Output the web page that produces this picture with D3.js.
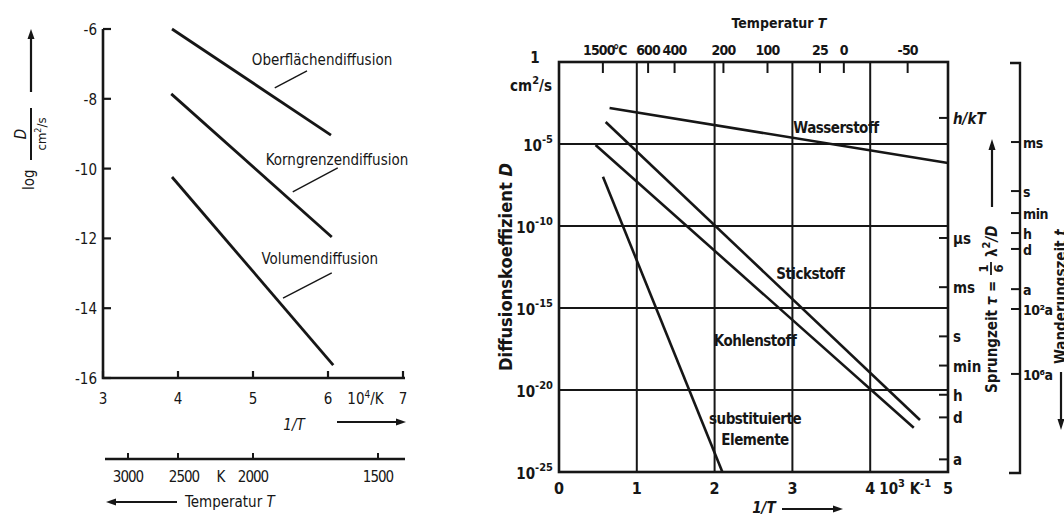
<!DOCTYPE html>
<html>
<head>
<meta charset="utf-8">
<script src="https://cdn.jsdelivr.net/npm/d3@7"></script>
<style>
  body { margin: 0; background: #fff; }
  svg text { font-family: "DejaVu Sans Condensed", "Liberation Sans Narrow", sans-serif; font-stretch: condensed; fill: #161616; }
</style>
</head>
<body>
<div id="chart"></div>
<script>
// ---------- left panel data (1/T in 10^4/K, log D in cm²/s) ----------
const leftNames = ['Oberflächendiffusion', 'Korngrenzendiffusion', 'Volumendiffusion'];
const leftInvT = [[3.92, 6.04], [3.91, 6.05], [3.92, 6.07]];
const leftLogD = [[-6.0, -9.04], [-7.86, -11.96], [-10.24, -15.63]];
const leftYTicks = [-6, -8, -10, -12, -14, -16];
const leftXTicks = [3, 4, 5, 6, 7];
const leftTempTicks = [3000, 2500, 2000, 1500];

// ---------- right panel data (1/T in 10^3 K^-1, log D in cm²/s) ----------
const rightNames = ['Wasserstoff', 'Stickstoff', 'Kohlenstoff', 'substituierte Elemente'];
const rightInvT = [[0.65, 5.0], [0.60, 4.64], [0.47, 4.56], [0.565, 2.10]];
const rightLogD = [[-2.8, -6.16], [-3.66, -21.83], [-5.06, -22.3], [-7.0, -25.0]];
const rightYTicks = [0, -5, -10, -15, -20, -25];
const rightXTicks = [0, 1, 2, 3, 4, 5];
const topTempC = [1500, 600, 400, 200, 100, 25, 0, -50];
// Sprungzeit scale (inner right), placed at equivalent log D
const jumpLabels = ['h/kT', 'µs', 'ms', 's', 'min', 'h', 'd', 'a'];
const jumpLogD = [-3.41, -10.73, -13.73, -16.73, -18.51, -20.29, -21.67, -24.23];
// Wanderungszeit scale (outer right), placed at equivalent log D
const walkLabels = ['ms', 's', 'min', 'h', 'd', 'a', '10²a', '10⁶a'];
const walkLogD = [-4.88, -7.87, -9.21, -10.43, -11.4, -13.85, -15.06, -19.02];

const ink = '#161616';
const svg = d3.select('#chart').append('svg')
    .attr('width', 1064)
    .attr('height', 516);

// ===================== left panel =====================
const xL = d3.scaleLinear().domain([3, 7]).range([103, 403]);
const yL = d3.scaleLinear().domain([-16, -6]).range([378, 29]);
const gL = svg.append('g');

gL.append('path')
    .attr('d', `M${xL(3)},${yL(-6)}V${yL(-16)}H${xL(7) + 2}`)
    .attr('fill', 'none').attr('stroke', ink).attr('stroke-width', 2.6);

leftYTicks.forEach(v => {
    gL.append('line')
        .attr('x1', xL(3)).attr('x2', xL(3) + 8)
        .attr('y1', yL(v)).attr('y2', yL(v))
        .attr('stroke', ink).attr('stroke-width', 2.2);
    gL.append('text')
        .attr('x', xL(3) - 6).attr('y', yL(v) + 6)
        .attr('text-anchor', 'end')
        .style('font-size', '15px')
        .text(v);
});

leftXTicks.forEach(v => {
    gL.append('line')
        .attr('x1', xL(v)).attr('x2', xL(v))
        .attr('y1', yL(-16)).attr('y2', yL(-16) - 7)
        .attr('stroke', ink).attr('stroke-width', 2.2);
    gL.append('text')
        .attr('x', xL(v)).attr('y', 404)
        .attr('text-anchor', 'middle')
        .style('font-size', '15px')
        .text(v);
});
const unitL = gL.append('text').attr('x', xL(6.5)).attr('y', 404)
    .attr('text-anchor', 'middle').style('font-size', '15px');
unitL.append('tspan').text('10');
unitL.append('tspan').attr('dy', -6).style('font-size', '10px').text('4');
unitL.append('tspan').attr('dy', 6).text('/K');

// 1/T label with arrow
gL.append('text').attr('x', 294).attr('y', 430)
    .attr('text-anchor', 'middle').style('font-size', '15px').style('font-style', 'italic')
    .text('1/T');
gL.append('line').attr('x1', 337).attr('x2', 398).attr('y1', 422).attr('y2', 422)
    .attr('stroke', ink).attr('stroke-width', 2.2);
gL.append('path').attr('d', 'M406,422 L396,418.5 L396,425.5 Z').attr('fill', ink);

// temperature axis
gL.append('line').attr('x1', 105).attr('x2', 405).attr('y1', 459).attr('y2', 459)
    .attr('stroke', ink).attr('stroke-width', 2.4);
leftTempTicks.forEach(t => {
    const x = xL(1e4 / t);
    gL.append('line').attr('x1', x).attr('x2', x).attr('y1', 459).attr('y2', 453)
        .attr('stroke', ink).attr('stroke-width', 2);
    gL.append('text').attr('x', t === 2500 ? x + 6 : x).attr('y', 482)
        .attr('text-anchor', 'middle').style('font-size', '15px').style('letter-spacing', '-1px')
        .text(t);
});
gL.append('text').attr('x', 221).attr('y', 482).attr('text-anchor', 'middle')
    .style('font-size', '15px').text('K');
gL.append('line').attr('x1', 114).attr('x2', 177).attr('y1', 502).attr('y2', 502)
    .attr('stroke', ink).attr('stroke-width', 2.2);
gL.append('path').attr('d', 'M106,502 L116,498.5 L116,505.5 Z').attr('fill', ink);
const tL = gL.append('text').attr('x', 185).attr('y', 507).style('font-size', '15px');
tL.append('tspan').text('Temperatur ');
tL.append('tspan').style('font-style', 'italic').text('T');

// y label: log D / (cm²/s) with arrow
const yLab = gL.append('g').attr('transform', 'translate(31,190) rotate(-90)');
yLab.append('text').attr('x', 0).attr('y', 3).style('font-size', '15px').text('log');
yLab.append('line').attr('x1', 30).attr('x2', 82).attr('y1', 0).attr('y2', 0)
    .attr('stroke', ink).attr('stroke-width', 2);
yLab.append('text').attr('x', 56).attr('y', -5).attr('text-anchor', 'middle')
    .style('font-size', '15px').style('font-style', 'italic').text('D');
const cmL = yLab.append('text').attr('x', 56).attr('y', 15).attr('text-anchor', 'middle')
    .style('font-size', '13px');
cmL.append('tspan').text('cm');
cmL.append('tspan').attr('dy', -5).style('font-size', '9px').text('2');
cmL.append('tspan').attr('dy', 5).text('/s');
yLab.append('line').attr('x1', 98).attr('x2', 152).attr('y1', 0).attr('y2', 0)
    .attr('stroke', ink).attr('stroke-width', 2.2);
yLab.append('path').attr('d', 'M161,0 L151,-3.5 L151,3.5 Z').attr('fill', ink);

// lines
const lineL = d3.line().x(d => xL(d[0])).y(d => yL(d[1]));
leftNames.forEach((n, i) => {
    gL.append('path')
        .datum(d3.zip(leftInvT[i], leftLogD[i]))
        .attr('d', lineL)
        .attr('fill', 'none').attr('stroke', ink).attr('stroke-width', 2.8);
});

// labels with leader lines (data coordinates)
const leftLabelPos = [[5.92, -7.03], [6.12, -9.9], [5.89, -12.73]];
const leftLeader = [[[5.29, -7.69], [5.72, -7.20]], [[5.53, -10.67], [6.13, -9.98]], [[5.40, -13.71], [6.05, -12.99]]];
leftNames.forEach((n, i) => {
    gL.append('text')
        .attr('x', xL(leftLabelPos[i][0])).attr('y', yL(leftLabelPos[i][1]))
        .attr('text-anchor', 'middle')
        .style('font-size', '15px')
        .text(n);
    gL.append('path')
        .datum(leftLeader[i])
        .attr('d', lineL)
        .attr('fill', 'none').attr('stroke', ink).attr('stroke-width', 1.4);
});

// ===================== right panel =====================
const xR = d3.scaleLinear().domain([0, 5]).range([559, 948]);
const yR = d3.scaleLinear().domain([-25, 0]).range([472, 62]);
const gR = svg.append('g');

// grid
[1, 2, 3, 4].forEach(v => {
    gR.append('line').attr('x1', xR(v)).attr('x2', xR(v)).attr('y1', yR(0)).attr('y2', yR(-25))
        .attr('stroke', ink).attr('stroke-width', 2);
});
[-5, -10, -15, -20].forEach(v => {
    gR.append('line').attr('x1', xR(0)).attr('x2', xR(5)).attr('y1', yR(v)).attr('y2', yR(v))
        .attr('stroke', ink).attr('stroke-width', 2);
});
gR.append('rect')
    .attr('x', xR(0)).attr('y', yR(0))
    .attr('width', xR(5) - xR(0)).attr('height', yR(-25) - yR(0))
    .attr('fill', 'none').attr('stroke', ink).attr('stroke-width', 2.6);

// left tick labels
rightYTicks.forEach(v => {
    if (v === 0) return;
    const t = gR.append('text').attr('x', 553).attr('y', yR(v) + 7)
        .attr('text-anchor', 'end').style('font-size', '15px').style('font-weight', 'bold');
    t.append('tspan').text('10');
    t.append('tspan').attr('dy', -8).style('font-size', '11px').text(v);
});
gR.append('text').attr('x', 535).attr('y', 63).attr('text-anchor', 'middle')
    .style('font-size', '15px').style('font-weight', 'bold').text(1);
const cmR = gR.append('text').attr('x', 552).attr('y', 91).attr('text-anchor', 'end')
    .style('font-size', '15px').style('font-weight', 'bold');
cmR.append('tspan').text('cm');
cmR.append('tspan').attr('dy', -7).style('font-size', '11px').text('2');
cmR.append('tspan').attr('dy', 7).text('/s');

const dLab = gR.append('text')
    .attr('transform', 'translate(512,267) rotate(-90)')
    .attr('text-anchor', 'middle')
    .attr('textLength', 208).attr('lengthAdjust', 'spacingAndGlyphs')
    .style('font-size', '17px').style('font-weight', 'bold');
dLab.append('tspan').text('Diffusionskoeffizient ');
dLab.append('tspan').style('font-style', 'italic').text('D');

// bottom tick labels
rightXTicks.forEach(v => {
    gR.append('text').attr('x', xR(v)).attr('y', 494).attr('text-anchor', 'middle')
        .style('font-size', '16px').style('font-weight', 'bold').text(v);
});
const unitR = gR.append('text').attr('x', xR(4.45)).attr('y', 494).attr('text-anchor', 'middle')
    .style('font-size', '15px').style('font-weight', 'bold');
unitR.append('tspan').text('10');
unitR.append('tspan').attr('dy', -7).style('font-size', '11px').text('3');
unitR.append('tspan').attr('dy', 7).text(' K');
unitR.append('tspan').attr('dy', -7).style('font-size', '11px').text('-1');
gR.append('text').attr('x', 764).attr('y', 513).attr('text-anchor', 'middle')
    .style('font-size', '15px').style('font-weight', 'bold').style('font-style', 'italic').text('1/T');
gR.append('line').attr('x1', 782).attr('x2', 834).attr('y1', 509).attr('y2', 509)
    .attr('stroke', ink).attr('stroke-width', 2.2);
gR.append('path').attr('d', 'M843,509 L833,505.5 L833,512.5 Z').attr('fill', ink);

// top temperature axis (°C)
topTempC.forEach(c => {
    const x = xR(1000 / (c + 273.15));
    gR.append('line').attr('x1', x).attr('x2', x).attr('y1', yR(0)).attr('y2', yR(0) + 11)
        .attr('stroke', ink).attr('stroke-width', 2);
    gR.append('text').attr('x', c === 1500 ? x - 4 : x).attr('y', 55).attr('text-anchor', 'middle')
        .style('font-size', '14px').style('font-weight', 'bold').style('letter-spacing', '-0.8px')
        .text(c === -50 ? '-50' : c);
    if (c === 1500) {
        gR.append('text').attr('x', x + 10).attr('y', 55)
            .style('font-size', '14px').style('font-weight', 'bold').style('letter-spacing', '-0.8px')
            .text('°C');
    }
});
const tR = gR.append('text').attr('x', 779).attr('y', 28).attr('text-anchor', 'middle')
    .style('font-size', '14px').style('font-weight', 'bold');
tR.append('tspan').text('Temperatur ');
tR.append('tspan').style('font-style', 'italic').text('T');

// inner right scale (Sprungzeit)
jumpLabels.forEach((l, i) => {
    const y = yR(jumpLogD[i]);
    gR.append('line').attr('x1', xR(5) - 9).attr('x2', xR(5)).attr('y1', y).attr('y2', y)
        .attr('stroke', ink).attr('stroke-width', 2);
    gR.append('text').attr('x', 953).attr('y', y + 6)
        .style('font-size', '15px').style('font-weight', 'bold')
        .style('font-style', i === 0 ? 'italic' : 'normal')
        .text(l);
});

// Sprungzeit label
const sp = gR.append('g').attr('transform', 'translate(997,393) rotate(-90)');
const spT = sp.append('text').attr('x', 0).attr('y', 0)
    .style('font-size', '15px').style('font-weight', 'bold');
spT.append('tspan').text('Sprungzeit ');
spT.append('tspan').style('font-style', 'italic').text('τ');
spT.append('tspan').text(' =');
sp.append('line').attr('x1', 118).attr('x2', 131).attr('y1', -6).attr('y2', -6)
    .attr('stroke', ink).attr('stroke-width', 1.8);
sp.append('text').attr('x', 124.5).attr('y', -9).attr('text-anchor', 'middle')
    .style('font-size', '13px').style('font-weight', 'bold').text('1');
sp.append('text').attr('x', 124.5).attr('y', 6).attr('text-anchor', 'middle')
    .style('font-size', '13px').style('font-weight', 'bold').text('6');
const lam = sp.append('text').attr('x', 136).attr('y', 0)
    .style('font-size', '15px').style('font-weight', 'bold');
lam.append('tspan').text('λ');
lam.append('tspan').attr('dy', -7).style('font-size', '11px').text('2');
lam.append('tspan').attr('dy', 7).style('font-style', 'italic').text('/D');
sp.append('line').attr('x1', 186).attr('x2', 244).attr('y1', -5).attr('y2', -5)
    .attr('stroke', ink).attr('stroke-width', 2.2);
sp.append('path').attr('d', 'M254,-5 L243,-8.5 L243,-1.5 Z').attr('fill', ink);

// outer right scale (Wanderungszeit)
gR.append('path').attr('d', `M1010,${yR(0) + 1}H1020V${yR(-25) + 1}H1009`)
    .attr('fill', 'none').attr('stroke', ink).attr('stroke-width', 2.4);
walkLabels.forEach((l, i) => {
    const y = yR(walkLogD[i]);
    gR.append('line').attr('x1', 1011).attr('x2', 1020).attr('y1', y).attr('y2', y)
        .attr('stroke', ink).attr('stroke-width', 2);
    gR.append('text').attr('x', 1023).attr('y', y + 6)
        .style('font-size', '14px').style('font-weight', 'bold').style('letter-spacing', '-0.5px')
        .text(l);
});
const wz = gR.append('g').attr('transform', 'translate(1066,430) rotate(-90)');
wz.append('line').attr('x1', 10).attr('x2', 58).attr('y1', -5).attr('y2', -5)
    .attr('stroke', ink).attr('stroke-width', 2.2);
wz.append('path').attr('d', 'M0,-5 L11,-8.5 L11,-1.5 Z').attr('fill', ink);
const wzT = wz.append('text').attr('x', 66).attr('y', 0)
    .style('font-size', '15px').style('font-weight', 'bold');
wzT.append('tspan').text('Wanderungszeit ');
wzT.append('tspan').style('font-style', 'italic').text('t');

// series
const lineR = d3.line().x(d => xR(d[0])).y(d => yR(d[1]));
rightNames.forEach((n, i) => {
    gR.append('path')
        .datum(d3.zip(rightInvT[i], rightLogD[i]))
        .attr('d', lineR)
        .attr('fill', 'none').attr('stroke', ink).attr('stroke-width', 2.6);
});

// series labels (data coordinates)
const rightLabelPos = [[3.56, -4.3], [3.23, -13.23], [2.52, -17.3], [2.52, -22.07]];
rightNames.forEach((n, i) => {
    const t = gR.append('text')
        .attr('x', xR(rightLabelPos[i][0])).attr('y', yR(rightLabelPos[i][1]))
        .attr('text-anchor', 'middle')
        .style('font-size', '15px').style('font-weight', 'bold').style('letter-spacing', '-0.5px');
    const parts = n === 'substituierte Elemente' ? ['substituierte', 'Elemente'] : [n];
    parts.forEach((p, k) => {
        t.append('tspan').attr('x', xR(rightLabelPos[i][0])).attr('dy', k ? 21 : 0).text(p);
    });
});
</script>
</body>
</html>
